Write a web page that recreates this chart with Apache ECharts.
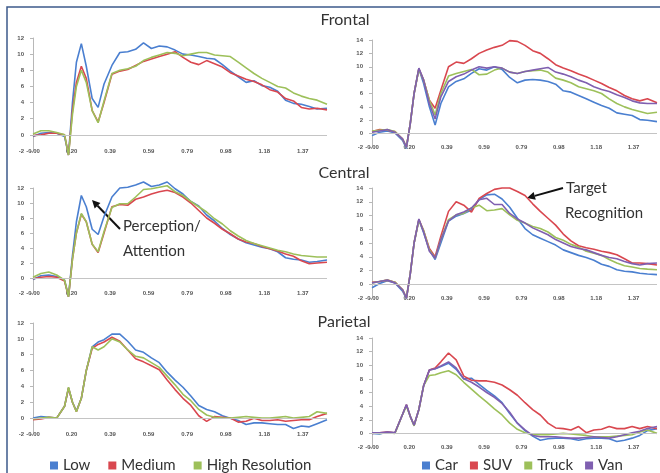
<!DOCTYPE html>
<html>
<head>
<meta charset="utf-8">
<script src="https://cdn.jsdelivr.net/npm/echarts/dist/echarts.min.js"></script>
<style>
html, body { margin: 0; padding: 0; background: #fff; }
#chart { width: 660px; height: 473px; }
</style>
</head>
<body>
<div id="chart"></div>
<script>
// sample times (s), shared by all six panels
var times = [0.00, 0.04, 0.08, 0.12, 0.16, 0.18, 0.20, 0.22, 0.245, 0.27,
  0.30, 0.33, 0.36, 0.40, 0.44, 0.48, 0.52, 0.56, 0.60, 0.64,
  0.68, 0.72, 0.76, 0.80, 0.84, 0.88, 0.92, 0.96, 1.00, 1.04,
  1.08, 1.12, 1.16, 1.20, 1.24, 1.28, 1.32, 1.36, 1.40, 1.44, 1.49];
var tickLabels = ['-0.00', '0.20', '0.39', '0.59', '0.79', '0.98', '1.18', '1.37'];
var tickStep = 0.1953125;

var resolutionNames = ['Low', 'Medium', 'High Resolution'];
var vehicleNames = ['Car', 'SUV', 'Truck', 'Van'];

// Frontal
var frontalLow = [-0.2, 0.2, 0.3, 0.2, -0.2, -2.5, 4.0, 9.0, 11.3, 8.5,
  4.5, 3.4, 6.3, 8.6, 10.2, 10.3, 10.6, 11.4, 10.7, 11.0,
  10.9, 10.5, 10.0, 9.9, 9.7, 9.5, 9.4, 8.7, 7.9, 7.2,
  6.5, 6.7, 6.1, 5.9, 5.4, 4.3, 3.9, 3.8, 3.5, 3.2, 3.3];
var frontalMedium = [-0.1, 0.0, 0.2, 0.2, 0.0, -2.5, 3.0, 6.5, 8.5, 7.0,
  3.0, 1.6, 4.0, 7.5, 7.9, 8.1, 8.6, 9.1, 9.4, 9.7,
  10.0, 10.3, 9.6, 9.0, 8.7, 9.2, 8.8, 8.4, 7.7, 7.3,
  6.9, 6.6, 6.2, 5.6, 5.3, 4.5, 4.2, 3.4, 3.2, 3.3, 3.1];
var frontalHigh = [0.1, 0.5, 0.5, 0.3, 0.0, -2.5, 2.5, 6.0, 8.0, 6.5,
  3.0, 1.5, 4.2, 7.6, 8.0, 8.2, 8.5, 9.2, 9.6, 9.9,
  10.2, 10.1, 9.8, 10.0, 10.2, 10.2, 9.9, 9.8, 9.7, 9.0,
  8.3, 7.6, 7.0, 6.5, 6.0, 5.8, 5.2, 4.8, 4.5, 4.3, 3.8];
var frontalCar = [-0.3, 0.2, 0.4, 0.1, -1.0, -2.2, 1.5, 6.0, 9.7, 7.5,
  4.0, 1.3, 4.5, 7.0, 7.8, 8.2, 9.0, 9.7, 9.5, 10.0,
  9.6, 8.4, 7.6, 8.0, 8.1, 8.0, 7.8, 7.4, 6.4, 6.2,
  5.7, 5.2, 4.7, 4.2, 3.8, 3.1, 2.9, 2.7, 2.1, 2.0, 1.8];
var frontalSuv = [0.3, 0.6, 0.5, 0.3, -0.8, -2.0, 1.5, 6.0, 9.7, 8.0,
  5.0, 3.8, 6.5, 10.0, 10.7, 10.5, 11.2, 12.0, 12.5, 12.9,
  13.2, 13.9, 13.8, 13.2, 12.4, 12.0, 11.2, 10.3, 9.8, 9.4,
  8.9, 8.5, 8.0, 7.5, 6.9, 6.4, 5.7, 5.2, 4.9, 5.2, 4.6];
var frontalTruck = [0.4, 0.5, 0.6, 0.3, -0.8, -2.0, 1.5, 6.0, 9.6, 8.0,
  5.0, 2.8, 6.0, 8.6, 9.0, 9.3, 9.6, 8.8, 8.9, 9.5,
  9.8, 9.2, 9.0, 9.3, 9.4, 9.5, 9.2, 8.3, 8.0, 7.6,
  7.0, 6.7, 6.4, 6.0, 5.2, 4.5, 4.0, 3.6, 3.3, 3.0, 3.2];
var frontalVan = [0.2, 0.4, 0.6, 0.2, -0.8, -2.0, 1.5, 6.0, 9.8, 8.0,
  4.5, 2.2, 5.5, 7.8, 8.5, 8.9, 9.5, 10.0, 9.8, 10.0,
  9.8, 9.2, 9.0, 9.3, 9.5, 9.7, 9.9, 9.2, 8.9, 8.5,
  8.0, 7.6, 7.0, 6.6, 6.3, 5.8, 5.4, 4.9, 4.6, 4.5, 4.5];

// Central
var centralLow = [-0.2, 0.3, 0.4, 0.2, -0.3, -2.5, 3.0, 7.5, 11.0, 9.5,
  6.5, 5.8, 8.2, 10.8, 12.0, 12.1, 12.4, 12.8, 12.2, 12.4,
  12.8, 11.9, 11.2, 10.2, 9.6, 8.4, 7.6, 6.6, 5.8, 5.2,
  4.7, 4.4, 4.1, 3.9, 3.5, 2.7, 2.5, 2.4, 2.1, 2.2, 2.4];
var centralMedium = [-0.1, 0.1, 0.2, 0.1, -0.4, -2.5, 2.5, 6.0, 8.5, 7.5,
  4.5, 3.4, 6.0, 9.5, 9.8, 9.7, 10.5, 10.8, 11.2, 11.5,
  11.7, 11.4, 10.8, 10.0, 9.0, 8.0, 7.3, 6.5, 5.9, 5.2,
  4.8, 4.6, 4.2, 3.9, 3.6, 3.2, 2.9, 2.3, 1.9, 2.0, 2.1];
var centralHigh = [0.1, 0.6, 0.8, 0.4, -0.3, -2.5, 2.5, 6.0, 8.6, 7.5,
  4.5, 3.5, 6.2, 9.4, 9.9, 9.9, 10.8, 11.8, 11.9, 12.1,
  12.3, 11.5, 11.0, 10.2, 9.5, 8.8, 7.9, 7.2, 6.3, 5.6,
  5.0, 4.6, 4.3, 4.0, 3.7, 3.5, 3.2, 3.0, 2.9, 2.8, 2.8];
var centralCar = [-0.5, 0.1, 0.5, 0.2, -1.0, -2.1, 1.5, 6.0, 9.4, 7.5,
  5.0, 3.6, 6.0, 9.2, 9.9, 10.3, 10.8, 12.3, 13.0, 13.1,
  12.4, 11.2, 9.6, 8.1, 7.2, 6.7, 6.2, 5.7, 5.0, 4.6,
  4.2, 3.9, 3.5, 2.9, 2.6, 2.1, 1.9, 1.8, 1.6, 1.5, 1.4];
var centralSuv = [0.3, 0.4, 0.6, 0.3, -0.8, -2.0, 1.5, 6.0, 9.4, 7.8,
  5.2, 4.0, 7.0, 10.6, 12.0, 11.5, 10.5, 12.5, 13.2, 13.8,
  14.0, 14.0, 13.5, 12.9, 11.7, 10.6, 9.6, 8.6, 7.3, 6.3,
  5.6, 5.3, 5.1, 4.8, 4.6, 4.3, 3.7, 3.1, 3.1, 3.0, 2.8];
var centralTruck = [0.2, 0.4, 0.6, 0.3, -0.8, -2.0, 1.5, 6.0, 9.3, 7.8,
  5.0, 3.8, 6.5, 9.4, 10.1, 10.3, 11.1, 11.5, 10.7, 10.8,
  11.0, 10.1, 9.3, 8.9, 8.4, 8.1, 7.6, 6.8, 6.4, 5.8,
  5.4, 4.8, 4.5, 4.2, 3.6, 3.1, 2.7, 2.5, 2.3, 2.2, 2.1];
var centralVan = [0.2, 0.4, 0.6, 0.2, -0.8, -2.0, 1.5, 6.0, 9.5, 7.6,
  4.8, 3.8, 6.5, 9.2, 10.1, 10.5, 11.1, 12.3, 12.5, 11.6,
  11.6, 10.3, 9.5, 8.9, 8.2, 7.7, 7.2, 6.5, 6.0, 5.5,
  5.2, 5.0, 4.6, 4.2, 3.9, 3.7, 3.3, 3.0, 2.8, 3.0, 3.1];

// Parietal
var parietalLow = [0.0, 0.2, 0.1, 0.0, 1.5, 3.8, 2.0, 0.9, 2.5, 6.0,
  9.0, 9.6, 9.9, 10.6, 10.6, 9.7, 8.6, 8.3, 7.6, 7.0,
  5.8, 4.8, 3.9, 2.8, 1.6, 1.1, 0.8, 0.3, 0.0, -0.3,
  -0.8, -0.6, -0.6, -0.7, -0.8, -0.8, -1.3, -1.0, -1.1, -0.7, -0.2];
var parietalMedium = [-0.2, -0.1, 0.1, 0.0, 1.5, 3.8, 2.0, 0.8, 2.5, 6.0,
  8.8, 9.3, 9.6, 10.2, 9.7, 8.6, 7.5, 7.1, 6.6, 6.1,
  4.8, 3.6, 2.5, 1.6, 0.3, -0.4, 0.2, 0.1, 0.0, -0.5,
  -0.4, 0.0, -0.3, -0.3, -0.2, -0.4, -0.3, -0.2, -0.2, 0.2, 0.6];
var parietalHigh = [-0.1, 0.0, 0.1, 0.0, 1.5, 3.9, 2.0, 0.8, 2.5, 6.0,
  9.0, 8.6, 9.0, 10.0, 9.6, 8.6, 7.8, 7.6, 7.0, 6.4,
  5.3, 4.2, 3.0, 2.2, 1.1, 0.4, 0.1, 0.0, 0.0, 0.1,
  0.2, 0.1, 0.0, 0.0, 0.1, 0.2, 0.0, 0.1, 0.2, 0.8, 0.6];
var parietalCar = [0.0, -0.1, 0.2, 0.1, 2.8, 4.2, 2.5, 1.2, 3.5, 7.0,
  9.3, 9.5, 9.8, 10.3, 9.4, 8.0, 8.1, 7.2, 6.3, 5.5,
  4.5, 2.9, 1.5, 0.4, -0.4, -1.0, -0.8, -0.7, -0.7, -0.8,
  -1.0, -0.8, -0.7, -0.7, -0.8, -1.2, -1.0, -0.7, -0.3, 0.4, 0.7];
var parietalSuv = [0.0, 0.1, 0.2, 0.1, 2.8, 4.2, 2.5, 1.2, 3.5, 7.0,
  9.3, 9.6, 10.5, 11.8, 10.8, 8.4, 7.8, 7.7, 7.7, 7.5,
  7.1, 6.4, 5.6, 4.5, 3.5, 2.7, 1.5, 0.8, 0.7, 0.5,
  1.0, 0.1, 0.5, 0.6, 1.0, 0.7, 0.7, 1.0, 0.7, 1.0, 0.7];
var parietalTruck = [0.1, 0.0, 0.1, 0.0, 2.8, 4.0, 2.5, 1.1, 3.5, 7.0,
  8.5, 8.6, 8.9, 9.2, 8.6, 7.5, 6.5, 5.5, 4.6, 3.6,
  2.7, 1.5, 0.6, 0.1, -0.2, -0.2, -0.2, -0.1, 0.0, -0.1,
  -0.2, -0.3, -0.5, -0.5, -0.5, -0.4, -0.3, -0.2, 0.2, 0.5, 0.0];
var parietalVan = [0.1, 0.1, 0.2, 0.1, 2.8, 4.2, 2.5, 1.2, 3.5, 7.0,
  9.3, 9.5, 9.9, 10.5, 9.6, 8.0, 7.5, 6.8, 6.0, 5.3,
  4.4, 3.1, 1.5, 0.5, -0.3, -0.5, -0.5, -0.5, -0.6, -0.7,
  -0.7, -0.6, -0.5, -0.6, -0.7, -0.5, -0.2, 0.1, 0.3, 0.7, 1.0];

var resolutionColors = ['#4a7fd0', '#d9474f', '#9dc05a'];
var vehicleColors = ['#4a7fd0', '#d9474f', '#9dc05a', '#7f5fb0'];

var panels = [
  {left: 33, top: 38, width: 294, height: 113, yMax: 12, names: resolutionNames, colors: resolutionColors,
    values: [frontalLow, frontalMedium, frontalHigh]},
  {left: 372, top: 40, width: 285, height: 107, yMax: 14, names: vehicleNames, colors: vehicleColors,
    values: [frontalCar, frontalSuv, frontalTruck, frontalVan]},
  {left: 33, top: 188, width: 294, height: 105, yMax: 12, names: resolutionNames, colors: resolutionColors,
    values: [centralLow, centralMedium, centralHigh]},
  {left: 372, top: 188, width: 285, height: 110, yMax: 14, names: vehicleNames, colors: vehicleColors,
    values: [centralCar, centralSuv, centralTruck, centralVan]},
  {left: 33, top: 323, width: 294, height: 111, yMax: 12, names: resolutionNames, colors: resolutionColors,
    values: [parietalLow, parietalMedium, parietalHigh]},
  {left: 372, top: 338, width: 285, height: 109, yMax: 14, names: vehicleNames, colors: vehicleColors,
    values: [parietalCar, parietalSuv, parietalTruck, parietalVan]}
];

function tickFormatter(v) {
  var i = Math.round(v / tickStep);
  if (Math.abs(v - i * tickStep) > 1e-6) return '';
  return tickLabels[i] || '';
}

var series = [];
panels.forEach(function (p, gi) {
  p.values.forEach(function (vals, si) {
    var s = {
      type: 'line',
      name: p.names[si],
      xAxisIndex: gi,
      yAxisIndex: gi,
      data: times.map(function (t, k) { return [t, vals[k]]; }),
      showSymbol: false,
      symbol: 'none',
      clip: false,
      lineStyle: {width: 1.6, color: p.colors[si]},
      itemStyle: {color: p.colors[si]},
      emphasis: {disabled: true}
    };
    if (si === 0) {
      s.markLine = {
        silent: true, symbol: 'none', label: {show: false},
        lineStyle: {color: '#c4c4c4', width: 1, type: 'solid'},
        data: [{yAxis: 0}]
      };
    }
    series.push(s);
  });
});

function arrow(x1, y1, x2, y2) {
  var dx = x2 - x1, dy = y2 - y1;
  var len = Math.sqrt(dx * dx + dy * dy);
  var ux = dx / len, uy = dy / len;
  var bx = x2 - 8 * ux, by = y2 - 8 * uy;
  return [
    {type: 'line', shape: {x1: x1, y1: y1, x2: bx, y2: by}, style: {stroke: '#111', lineWidth: 2}},
    {type: 'polygon', shape: {points: [[x2, y2], [bx - 4 * uy, by + 4 * ux], [bx + 4 * uy, by - 4 * ux]]},
      style: {fill: '#111'}}
  ];
}

function label(text, x, y, size, align) {
  return {type: 'text', style: {text: text, x: x, y: y, fill: '#333', font: size + 'px Lato',
    align: align || 'left', verticalAlign: 'middle'}};
}

var graphics = [
  {type: 'rect', shape: {x: 7, y: 7, width: 700, height: 500},
    style: {fill: 'none', stroke: '#3c5a8a', lineWidth: 1.5}},
  label('Frontal', 345, 20, 16, 'center'),
  label('Central', 344, 173, 16, 'center'),
  label('Parietal', 344, 322, 16, 'center'),
  label('Perception/', 123, 226, 15),
  label('Attention', 123, 251, 15),
  label('Target', 566, 188, 15),
  label('Recognition', 565, 213, 15)
].concat(arrow(120, 229, 92, 200)).concat(arrow(563, 188, 527, 198));

var legendText = {fontSize: 15, color: '#333', fontFamily: 'Lato'};

var option = {
  animation: false,
  backgroundColor: '#fff',
  grid: panels.map(function (p) {
    return {left: p.left, top: p.top, width: p.width, height: p.height};
  }),
  xAxis: panels.map(function (p, i) {
    return {
      type: 'value', gridIndex: i, min: 0, max: 1.49, interval: tickStep,
      axisLine: {show: false}, axisTick: {show: false}, splitLine: {show: false},
      axisLabel: {margin: 0, verticalAlign: 'middle', fontSize: 6, fontWeight: 'bold', color: '#555',
        showMaxLabel: false, formatter: tickFormatter}
    };
  }),
  yAxis: panels.map(function (p, i) {
    return {
      type: 'value', gridIndex: i, min: -2, max: p.yMax, interval: 2,
      axisLine: {show: true, lineStyle: {color: '#b8b8b8'}},
      axisTick: {show: true, length: 3, lineStyle: {color: '#b8b8b8'}},
      splitLine: {show: false},
      axisLabel: {margin: 9, fontSize: 6, fontWeight: 'bold', color: '#555'}
    };
  }),
  legend: [
    {data: resolutionNames, left: 45, top: 453, icon: 'rect', itemWidth: 8, itemHeight: 8,
      itemGap: 18, textStyle: legendText, selectedMode: false},
    {data: vehicleNames, left: 417, top: 453, icon: 'rect', itemWidth: 8, itemHeight: 8,
      itemGap: 12, textStyle: legendText, selectedMode: false}
  ],
  graphic: graphics,
  series: series
};

var chart = echarts.init(document.getElementById('chart'));
chart.setOption(option);
</script>
</body>
</html>
